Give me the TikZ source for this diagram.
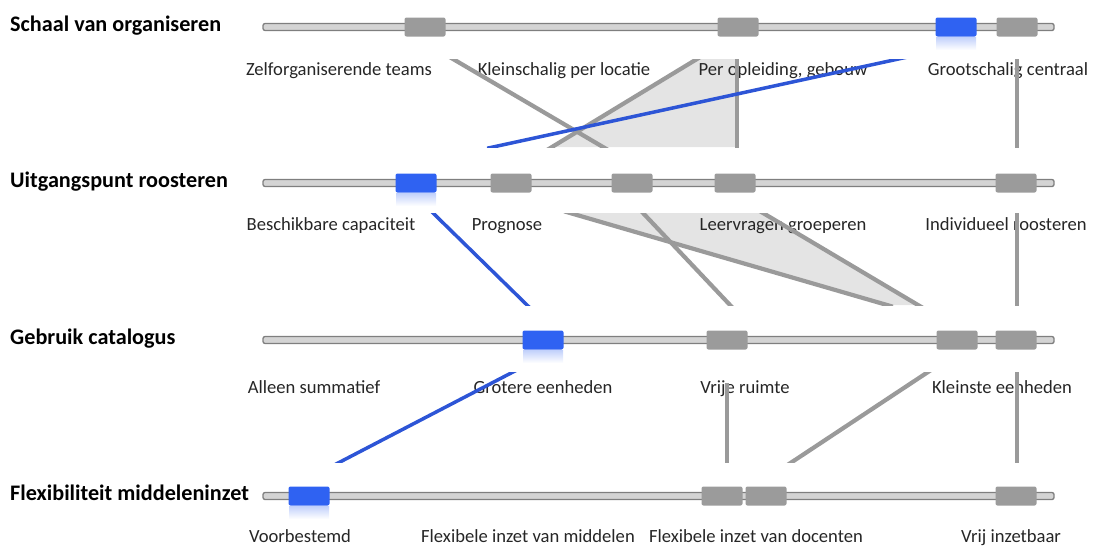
\documentclass[tikz,border=0pt]{standalone}
\usepackage{fontspec}
\setmainfont{Carlito}
\definecolor{trackedge}{HTML}{7F7F7F}
\definecolor{trackfill}{HTML}{D4D4D4}
\definecolor{knobgray}{HTML}{9B9B9B}
\definecolor{knobblue}{HTML}{2F62F2}
\definecolor{linkgray}{HTML}{9A9A9A}
\definecolor{linkblue}{HTML}{2D55D6}
\definecolor{bandgray}{HTML}{E4E4E4}
\begin{document}
\begin{tikzpicture}[x=1pt,y=-1pt,
  track/.style={draw=trackedge, fill=trackfill, line width=1.3pt, rounded corners=2pt},
  knob/.style={rectangle, rounded corners=2pt, minimum width=41pt, minimum height=19pt, inner sep=0pt, fill=knobgray},
  knobsel/.style={knob, fill=knobblue},
  optlabel/.style={font=\fontsize{18.6}{22}\selectfont, anchor=base, inner sep=0pt, text=black!85},
  rowtitle/.style={font=\fontsize{22.2}{26}\selectfont\bfseries, anchor=base west, inner sep=0pt},
  link/.style={draw=linkgray, line width=4.2pt, shorten <=-6pt, shorten >=-6pt},
  bluelink/.style={draw=linkblue, line width=3.5pt, shorten <=-6pt, shorten >=-6pt},
  band/.style={fill=bandgray},
  glow/.style={top color=knobblue!30, bottom color=white}
]
\useasboundingbox (0,0) rectangle (1098,546);

% ---------- row titles ----------
\node[rowtitle] (t1) at (10,31)  {Schaal van organiseren};
\node[rowtitle] (t2) at (10,187) {Uitgangspunt roosteren};
\node[rowtitle] (t3) at (10,344) {Gebruik catalogus};
\node[rowtitle] (t4) at (10,500) {Flexibiliteit middeleninzet};

% ---------- slider tracks ----------
\foreach \ry in {27,183,340,496}
  \draw[track] (263,\ry-3.5) rectangle (1054,\ry+3.5);

% ---------- glow under the selected knobs ----------
\shade[glow] (936,37) rectangle (976,50);
\shade[glow] (396,193) rectangle (436,206);
\shade[glow] (523,350) rectangle (563,363);
\shade[glow] (289,506) rectangle (329,519);

% ---------- knobs ----------
\node[knob]    (k1a) at (425,27) {};
\node[knob]    (k1b) at (738,27) {};
\node[knobsel] (k1c) at (956,27) {};
\node[knob]    (k1d) at (1017,27) {};

\node[knobsel] (k2a) at (416,183) {};
\node[knob]    (k2b) at (511,183) {};
\node[knob]    (k2c) at (632,183) {};
\node[knob]    (k2d) at (735,183) {};
\node[knob]    (k2e) at (1016,183) {};

\node[knobsel] (k3a) at (543,340) {};
\node[knob]    (k3b) at (727,340) {};
\node[knob]    (k3c) at (957,340) {};
\node[knob]    (k3d) at (1016,340) {};

\node[knobsel] (k4a) at (309,496) {};
\node[knob]    (k4b) at (722,496) {};
\node[knob]    (k4c) at (766,496) {};
\node[knob]    (k4d) at (1016,496) {};

% ---------- shaded ranges between rows ----------
\fill[band] (697,59) -- (737,59) -- (737,147) -- (552,147) -- cycle;
\fill[band] (570,213) -- (763,213) -- (918,305) -- (887,305) -- cycle;

% ---------- option labels ----------
\node[optlabel] (o1a) at (339,75) {Zelforganiserende teams};
\node[optlabel] (o1b) at (564,75) {Kleinschalig per locatie};
\node[optlabel] (o1c) at (783,75) {Per opleiding, gebouw};
\node[optlabel] (o1d) at (1008,75) {Grootschalig centraal};

\node[optlabel] (o2a) at (331,230) {Beschikbare capaciteit};
\node[optlabel] (o2b) at (507,230) {Prognose};
\node[optlabel] (o2c) at (783,230) {Leervragen groeperen};
\node[optlabel] (o2d) at (1006,230) {Individueel roosteren};

\node[optlabel] (o3a) at (314,393) {Alleen summatief};
\node[optlabel] (o3b) at (543,393) {Grotere eenheden};
\node[optlabel] (o3c) at (745,393) {Vrije ruimte};
\node[optlabel] (o3d) at (1002,393) {Kleinste eenheden};

\node[optlabel] (o4a) at (300,542) {Voorbestemd};
\node[optlabel] (o4b) at (528,542) {Flexibele inzet van middelen};
\node[optlabel] (o4c) at (756,542) {Flexibele inzet van docenten};
\node[optlabel] (o4d) at (1011,542) {Vrij inzetbaar};

% ---------- links: row 1 to row 2 ----------
\coordinate (a1) at (453,59);  \coordinate (a2) at (603,147);
\coordinate (b1) at (697,59);  \coordinate (b2) at (552,147);
\coordinate (c1) at (737,59);  \coordinate (c2) at (737,147);
\coordinate (d1) at (1017,59); \coordinate (d2) at (1017,147);
\coordinate (e1) at (493,147); \coordinate (e2) at (903,58);
\begin{scope}
  \clip (0,59) rectangle (1098,147);
  \draw[link] (a1) -- (a2);
  \draw[link] (b1) -- (b2);
  \draw[link] (c1) -- (c2);
  \draw[link] (d1) -- (d2);
  \draw[bluelink] (e1) -- (e2);
\end{scope}

% ---------- links: row 2 to row 3 ----------
\coordinate (f1) at (570,213);  \coordinate (f2) at (887,305);
\coordinate (g1) at (763,213);  \coordinate (g2) at (918,305);
\coordinate (h1) at (643,213);  \coordinate (h2) at (730,305);
\coordinate (i1) at (1017,213); \coordinate (i2) at (1017,305);
\coordinate (j1) at (433,213);  \coordinate (j2) at (527,305);
\begin{scope}
  \clip (0,213) rectangle (1098,305);
  \draw[link] (f1) -- (f2);
  \draw[link] (g1) -- (g2);
  \draw[link] (h1) -- (h2);
  \draw[link] (i1) -- (i2);
  \draw[bluelink] (j1) -- (j2);
\end{scope}

% ---------- links: row 3 to row 4 ----------
\coordinate (m1) at (727,383);  \coordinate (m2) at (727,462);
\coordinate (n1) at (928,372);  \coordinate (n2) at (792,462);
\coordinate (p1) at (1017,372); \coordinate (p2) at (1017,462);
\coordinate (q1) at (513,372);  \coordinate (q2) at (340,462);
\begin{scope}
  \clip (0,372) rectangle (1098,462);
  \draw[link, shorten <=0pt] (m1) -- (m2);
  \draw[link] (n1) -- (n2);
  \draw[link] (p1) -- (p2);
  \draw[bluelink] (q1) -- (q2);
\end{scope}
\end{tikzpicture}
\end{document}
